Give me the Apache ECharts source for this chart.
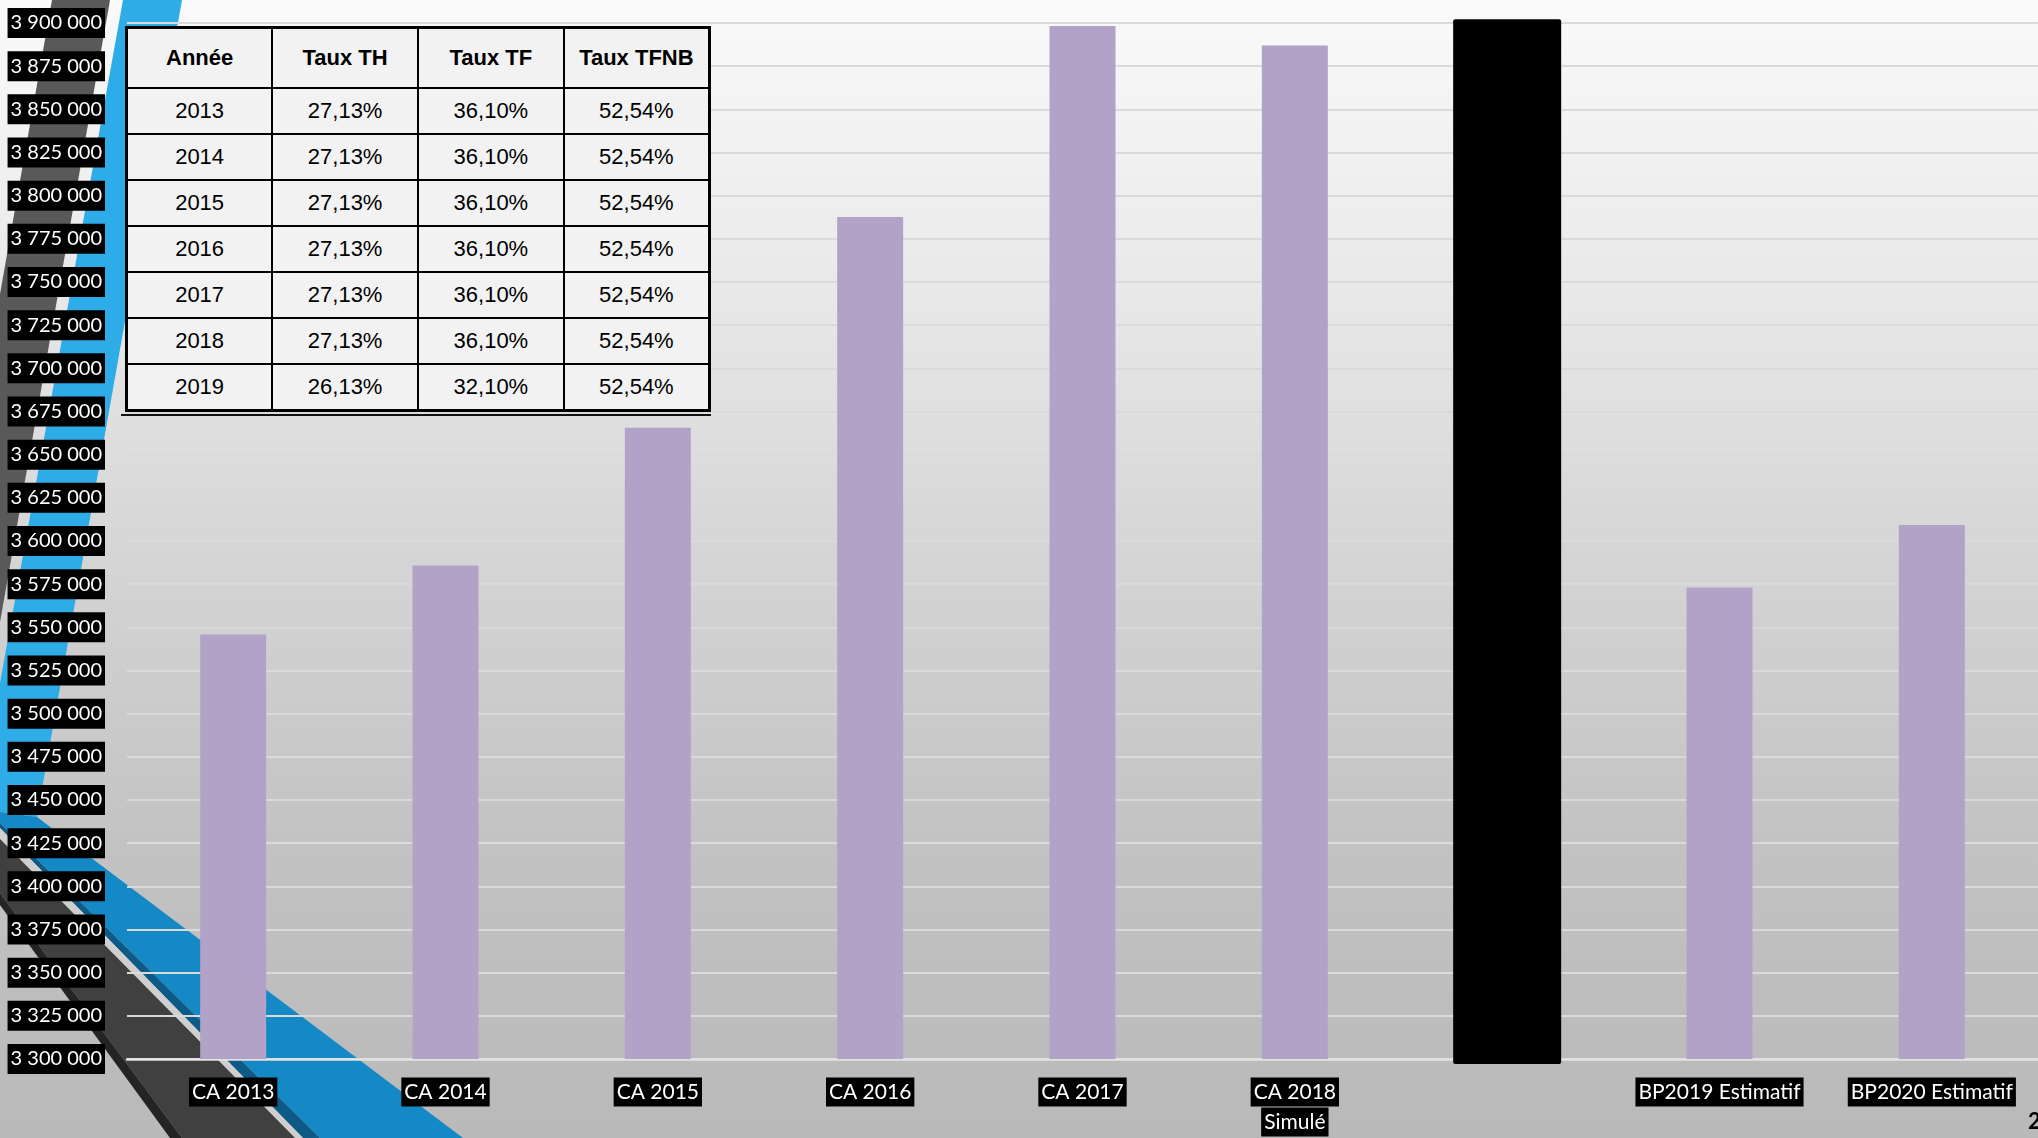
<!DOCTYPE html>
<html>
<head>
<meta charset="utf-8">
<script src="https://cdn.jsdelivr.net/npm/echarts@6/dist/echarts.min.js"></script>
<style>
html,body{margin:0;padding:0;width:2038px;height:1138px;overflow:hidden;background:#ddd;}
#chart{position:absolute;left:0;top:0;width:2038px;height:1138px;}
#tbl{position:absolute;left:125px;top:26px;width:586px;border-collapse:collapse;table-layout:fixed;
  font-family:'Liberation Sans',Arial,sans-serif;color:#000;background:#f2f2f2;border:3px solid #000;}
#tbl th,#tbl td{border:2.5px solid #000;text-align:center;padding:0;font-size:22px;}
#tbl th{font-weight:bold;height:58px;}
#tbl td{height:44px;}
#tblshadow{position:absolute;left:121px;top:414px;width:590px;height:2px;background:#111;}
</style>
</head>
<body>
<div id="chart"></div>
<table id="tbl"><thead><tr id="thead"></tr></thead><tbody id="tbody"></tbody></table>
<div id="tblshadow"></div>
<script>
// ---- data ----
const categories = ['CA 2013','CA 2014','CA 2015','CA 2016','CA 2017','CA 2018\nSimulé','','BP2019 Estimatif','BP2020 Estimatif'];
const montants = [3545900, 3585800, 3665600, 3787600, 3898200, 3886900, null, 3573000, 3609200];
// black masking rectangle over the 7th slot: starts slightly below the axis and ends slightly above the top
const masqueBase = [null, null, null, null, null, null, 3297100, null, null];
const masqueHauteur = [null, null, null, null, null, null, 605000, null, null];
const yMin = 3300000, yMax = 3900000, yStep = 25000;

const tableHeader = ['Année','Taux TH','Taux TF','Taux TFNB'];
const tableYears = ['2013','2014','2015','2016','2017','2018','2019'];
const tauxTH = ['27,13%','27,13%','27,13%','27,13%','27,13%','27,13%','26,13%'];
const tauxTF = ['36,10%','36,10%','36,10%','36,10%','36,10%','36,10%','32,10%'];
const tauxTFNB = ['52,54%','52,54%','52,54%','52,54%','52,54%','52,54%','52,54%'];
const pageNumber = '2';

// ---- table ----
const thead = document.getElementById('thead');
tableHeader.forEach(h => { const th = document.createElement('th'); th.textContent = h; thead.appendChild(th); });
const tbody = document.getElementById('tbody');
tableYears.forEach((y, i) => {
  const tr = document.createElement('tr');
  [y, tauxTH[i], tauxTF[i], tauxTFNB[i]].forEach(v => { const td = document.createElement('td'); td.textContent = v; tr.appendChild(td); });
  tbody.appendChild(tr);
});

// ---- chart ----
const fmt = v => String(v).replace(/\B(?=(\d{3})+(?!\d))/g, ' ');
const poly = (pts, fill, z) => ({ type: 'polygon', z: z, silent: true, shape: { points: pts }, style: { fill: fill } });

const chart = echarts.init(document.getElementById('chart'), null, { renderer: 'canvas' });
chart.setOption({
  animation: false,
  backgroundColor: 'transparent',
  graphic: { elements: [
    { type: 'rect', z: -30, silent: true, shape: { x: 0, y: 0, width: 2038, height: 1138 },
      style: { fill: { type: 'linear', x: 0, y: 0, x2: 0, y2: 1, colorStops: [
        { offset: 0, color: '#fafafa' }, { offset: 0.25, color: '#e9e9e9' }, { offset: 0.5, color: '#d4d4d4' },
        { offset: 0.75, color: '#c2c2c2' }, { offset: 1, color: '#b9b9b9' } ] } } },
    poly([[52,0],[110,0],[0,622],[0,294]], '#595959', -20),
    poly([[123,0],[182,0],[37,817],[0,812],[0,683]], '#2eace8', -20),
    poly([[0,812],[37,817],[463,1138],[320,1138],[0,823]], '#1588c6', -19),
    poly([[0,823],[320,1138],[303,1138],[0,828]], '#0d5a86', -19),
    poly([[0,828],[303,1138],[295,1138],[0,839]], '#cfcfcf', -19),
    poly([[0,839],[295,1138],[182,1138],[0,893]], '#404040', -19),
    poly([[0,893],[182,1138],[170,1138],[0,905]], '#242424', -19),
    { type: 'text', z: 10, silent: true, left: 2028, top: 1111,
      style: { text: pageNumber, fill: '#000', font: 'bold 22px Lato' } }
  ] },
  grid: { left: 127, right: 0, top: 23, bottom: 79, containLabel: false, outerBoundsMode: 'none' },
  xAxis: [
    { type: 'category', data: categories, boundaryGap: true,
      axisTick: { show: false },
      axisLine: { show: true, lineStyle: { color: '#e2e2e2', width: 2.5 } },
      splitLine: { show: false },
      axisLabel: { interval: 0, margin: 18, hideOverlap: false,
        formatter: v => v ? v.split('\n').map(s => '{b|' + s + '}').join('\n') : '',
        rich: { b: { color: '#fff', backgroundColor: '#000', padding: [4, 3, 4, 3],
          fontFamily: 'Lato', fontSize: 21, lineHeight: 30 } } } },
    { type: 'category', data: categories, show: false }
  ],
  yAxis: { type: 'value', min: yMin, max: yMax, interval: yStep,
    axisLine: { show: false }, axisTick: { show: false },
    splitLine: { show: true, lineStyle: { color: '#dadada', width: 2 } },
    axisLabel: { margin: 22, color: '#fff', backgroundColor: '#000', padding: [4, 3, 3, 3],
      fontFamily: 'Lato', fontSize: 20, lineHeight: 23, formatter: fmt, hideOverlap: false } },
  series: [
    { type: 'bar', name: 'Montant', data: montants, barWidth: 66, itemStyle: { color: '#b3a2c7' } },
    { type: 'bar', name: 'MasqueBase', xAxisIndex: 1, stack: 'm', data: masqueBase, barWidth: 108, clip: false,
      itemStyle: { color: 'rgba(0,0,0,0)' }, silent: true },
    { type: 'bar', name: 'Masque', xAxisIndex: 1, stack: 'm', data: masqueHauteur, barWidth: 108, clip: false,
      itemStyle: { color: '#000', borderRadius: 2 } }
  ]
});
</script>
</body>
</html>
